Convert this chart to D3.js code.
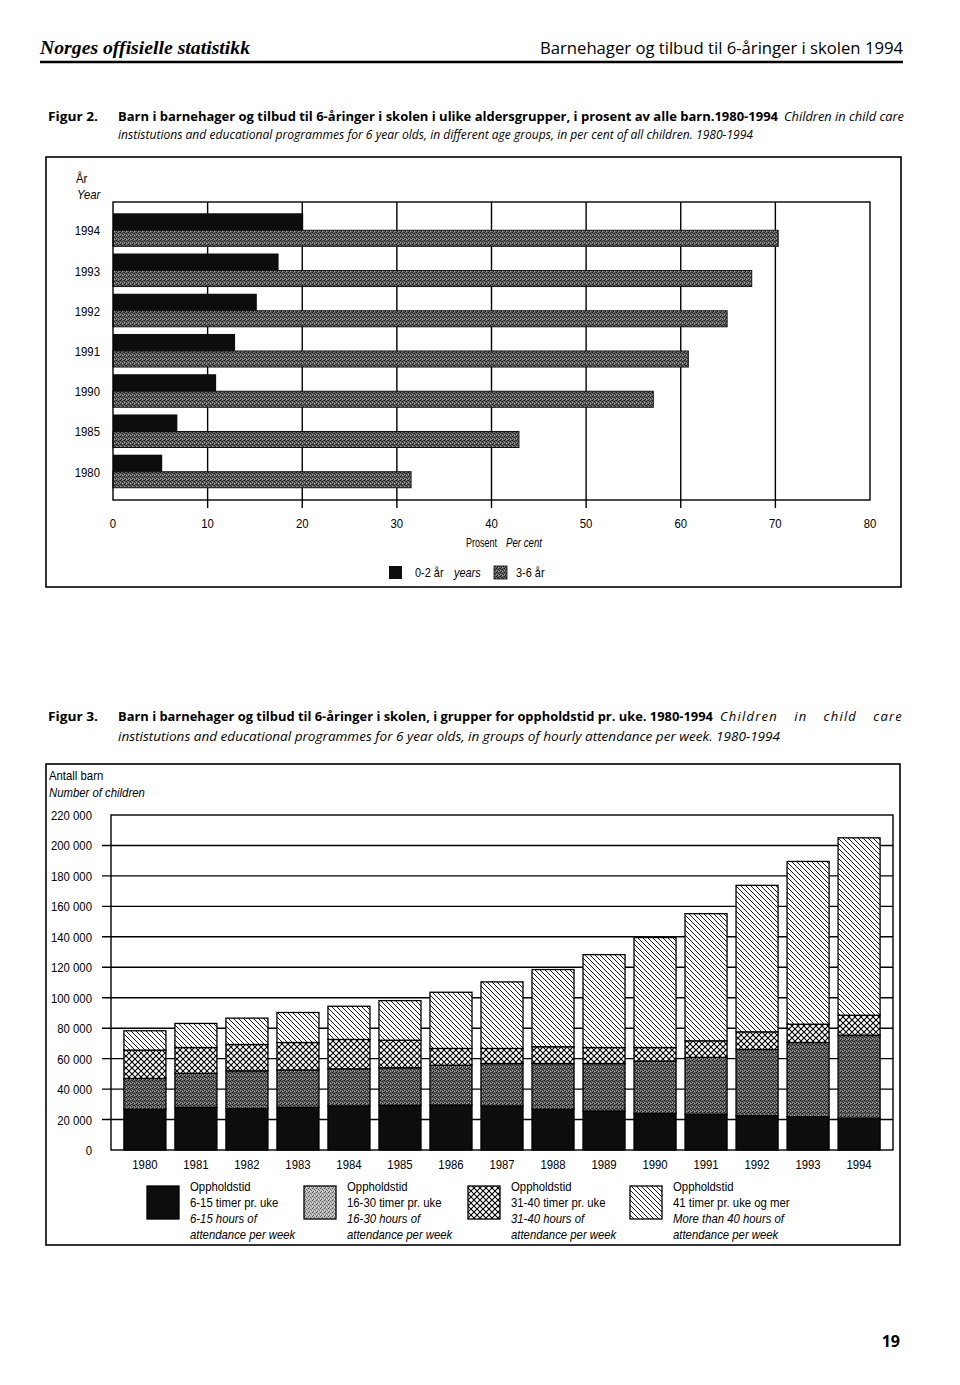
<!DOCTYPE html>
<html>
<head>
<meta charset="utf-8">
<style>
  body { margin: 0; background: #fff; }
  svg { display: block; }
</style>
</head>
<body>
<div id="chart"></div>
<script src="https://d3js.org/d3.v7.min.js"></script>
<script>

// Figur 2 data: percent of all children, by age group
var years2 = ["1994", "1993", "1992", "1991", "1990", "1985", "1980"];
var age02 = [20.1, 17.5, 15.2, 12.9, 10.9, 6.8, 5.2];
var age36 = [70.3, 67.5, 64.9, 60.8, 57.1, 42.9, 31.5];
var ticks2 = [0, 10, 20, 30, 40, 50, 60, 70, 80];

// Figur 3 data: number of children by hours of attendance per week
var years3 = ["1980", "1981", "1982", "1983", "1984", "1985", "1986", "1987",
              "1988", "1989", "1990", "1991", "1992", "1993", "1994"];
var h6_15  = [26700, 28000, 27300, 28000, 28900, 29300, 29500, 28900, 26700, 25600, 24000, 23400, 22500, 21900, 20800];
var h16_30 = [20300, 22300, 24700, 24500, 24400, 24700, 26200, 27900, 30100, 31200, 34400, 37400, 43500, 48700, 54600];
var h31_40 = [18600, 17000, 17300, 18100, 19300, 18100, 11000,  9900, 11000, 10500,  8900, 10900, 11600, 12000, 13100];
var h41    = [12700, 15800, 17300, 19700, 21800, 26000, 36900, 43700, 50700, 61000, 72200, 83500, 96200, 106900, 116500];
var ticks3 = [0, 20000, 40000, 60000, 80000, 100000, 120000, 140000, 160000, 180000, 200000, 220000];

var W = 960, H = 1385;
var narrow = "'Liberation Sans', Arial, sans-serif";   // condensed afterwards
var humanist = "'Open Sans', 'Noto Sans', sans-serif";
var squeeze = 0.84;

var svg = d3.select("#chart").append("svg")
    .attr("width", W)
    .attr("height", H);

var defs = svg.append("defs");

// stipple (grey screen, mottled)
function stipple(id, base, dots) {
  var p = defs.append("pattern").attr("id", id)
      .attr("patternUnits", "userSpaceOnUse").attr("width", 4).attr("height", 4);
  p.append("rect").attr("width", 4).attr("height", 4).attr("fill", base);
  dots.forEach(d => {
    p.append("rect").attr("x", d[0]).attr("y", d[1]).attr("width", 1).attr("height", 1).attr("fill", d[2]);
  });
}
stipple("stipple", "#6a6a6a", [[0, 0, "#141414"], [2, 1, "#222"], [1, 3, "#1a1a1a"], [3, 2, "#2a2a2a"],
  [2, 3, "#a8a8a8"], [0, 2, "#9c9c9c"], [3, 0, "#444"], [1, 1, "#3a3a3a"]]);
stipple("stippleLight", "#b8b8b8", [[0, 0, "#555"], [2, 1, "#666"], [1, 3, "#5a5a5a"], [3, 2, "#707070"],
  [2, 3, "#e0e0e0"], [0, 2, "#dadada"]]);

// cross hatch
var ch = defs.append("pattern").attr("id", "cross")
    .attr("patternUnits", "userSpaceOnUse").attr("width", 6).attr("height", 6);
ch.append("rect").attr("width", 6).attr("height", 6).attr("fill", "#fff");
ch.append("path").attr("d", "M0,0L6,6M6,0L0,6")
    .attr("stroke", "#000").attr("stroke-width", 1.1);

// diagonal "\" lines
var dg = defs.append("pattern").attr("id", "diag")
    .attr("patternUnits", "userSpaceOnUse").attr("width", 5).attr("height", 5);
dg.append("rect").attr("width", 5).attr("height", 5).attr("fill", "#fff");
dg.append("path").attr("d", "M0,0L5,5M-1,4L1,6M4,-1L6,1")
    .attr("stroke", "#000").attr("stroke-width", 0.9);

function txt(g, x, y, s, o) {
  o = o || {};
  var fam = o.family || narrow;
  var t = g.append("text")
      .attr("x", x).attr("y", y)
      .attr("font-family", fam)
      .attr("font-size", o.size || 13)
      .attr("fill", "#000")
      .text(s);
  if (fam === narrow) t.classed("nw", true);
  if (o.anchor) t.attr("text-anchor", o.anchor);
  if (o.weight) t.attr("font-weight", o.weight);
  if (o.italic) t.attr("font-style", "italic");
  if (o.len) t.attr("textLength", o.len).attr("lengthAdjust", "spacingAndGlyphs").classed("nw", false);
  return t;
}

// justified run: stretch word spacing so the run ends at x1
function justify(t, x0, x1) {
  var n = t.text().split(" ").length - 1;
  var w = t.node().getComputedTextLength();
  if (n > 0) t.attr("word-spacing", Math.max(0, (x1 - x0 - w) / n));
}

// ---- page header ----
txt(svg, 40, 54, "Norges offisielle statistikk",
    {family: "'Liberation Serif', 'DejaVu Serif', serif", size: 18, italic: true, weight: "bold", len: 210});
txt(svg, 903, 54, "Barnehager og tilbud til 6-åringer i skolen 1994",
    {family: humanist, size: 16, anchor: "end", len: 363});
svg.append("line").attr("x1", 40).attr("x2", 903).attr("y1", 62).attr("y2", 62)
    .attr("stroke", "#000").attr("stroke-width", 2.5);

// ---- Figur 2 caption ----
txt(svg, 48, 121, "Figur 2.", {family: humanist, size: 12.5, weight: "bold", len: 50});
txt(svg, 118, 121, "Barn i barnehager og tilbud til 6-åringer i skolen i ulike aldersgrupper, i prosent av alle barn.1980-1994",
    {family: humanist, size: 12.5, weight: "bold", len: 660});
txt(svg, 784, 121, "Children in child care", {family: humanist, size: 12.5, italic: true, len: 120});
txt(svg, 118, 139, "instistutions and  educational programmes for 6 year olds, in different age groups, in per cent of all children. 1980-1994",
    {family: humanist, size: 12.5, italic: true, len: 635});

// ---- Figur 2 frame ----
svg.append("rect").attr("x", 46).attr("y", 157).attr("width", 855).attr("height", 430)
    .attr("fill", "none").attr("stroke", "#000").attr("stroke-width", 1.6);

var g2 = svg.append("g");
var x2 = d3.scaleLinear().domain([0, 80]).range([113, 870]);
var y2 = d3.scaleBand().domain(years2).range([202, 500]).paddingInner(0.154).paddingOuter(0.28);
var sub2 = d3.scaleBand().domain(["a", "b"]).range([0, y2.bandwidth()]);

// vertical grid lines with tick extension
g2.selectAll("line.grid")
  .data(ticks2.filter(d => d > 0 && d < 80))
  .enter().append("line")
    .attr("x1", d => x2(d)).attr("x2", d => x2(d))
    .attr("y1", 202).attr("y2", 508)
    .attr("stroke", "#000").attr("stroke-width", 1.4);

// bars 0-2
g2.selectAll("rect.b02")
  .data(age02)
  .enter().append("rect")
    .attr("x", x2(0))
    .attr("y", (d, i) => y2(years2[i]) + sub2("a"))
    .attr("width", d => x2(d) - x2(0))
    .attr("height", sub2.bandwidth() + 1)
    .attr("fill", "#0d0d0d");

// bars 3-6
g2.selectAll("rect.b36")
  .data(age36)
  .enter().append("rect")
    .attr("x", x2(0))
    .attr("y", (d, i) => y2(years2[i]) + sub2("b"))
    .attr("width", d => x2(d) - x2(0))
    .attr("height", sub2.bandwidth() - 1)
    .attr("fill", "url(#stipple)")
    .attr("stroke", "#111").attr("stroke-width", 1);

// plot border
g2.append("rect").attr("x", x2(0)).attr("y", 202)
    .attr("width", x2(80) - x2(0)).attr("height", 298)
    .attr("fill", "none").attr("stroke", "#000").attr("stroke-width", 1.4);

// year labels
g2.selectAll("text.yr")
  .data(years2)
  .enter().append("text")
    .attr("class", "nw")
    .attr("x", 100)
    .attr("y", d => y2(d) + y2.bandwidth() / 2 + 5)
    .attr("text-anchor", "end")
    .attr("font-family", narrow).attr("font-size", 13.5)
    .text(d => d);

txt(g2, 76, 183, "År", {size: 13.5});
txt(g2, 77, 199, "Year", {size: 13.5, italic: true});

// x tick labels
g2.selectAll("text.xt")
  .data(ticks2)
  .enter().append("text")
    .attr("class", "nw")
    .attr("x", d => x2(d))
    .attr("y", 528)
    .attr("text-anchor", "middle")
    .attr("font-family", narrow).attr("font-size", 13.5)
    .text(d => d);

txt(g2, 466, 547, "Prosent", {size: 12.5, len: 31});
txt(g2, 506, 547, "Per cent", {size: 12.5, italic: true, len: 36});

// legend
g2.append("rect").attr("x", 389).attr("y", 566).attr("width", 13).attr("height", 13).attr("fill", "#0d0d0d");
txt(g2, 415, 577, "0-2 år", {size: 13});
txt(g2, 454, 577, "years", {size: 13, italic: true});
g2.append("rect").attr("x", 494).attr("y", 566).attr("width", 13).attr("height", 13)
    .attr("fill", "url(#stipple)").attr("stroke", "#000").attr("stroke-width", 0.8);
txt(g2, 516, 577, "3-6 år", {size: 13});

// ---- Figur 3 caption ----
txt(svg, 48, 721, "Figur 3.", {family: humanist, size: 12.5, weight: "bold", len: 50});
txt(svg, 118, 721, "Barn i barnehager og tilbud til 6-åringer i skolen, i grupper for oppholdstid pr. uke. 1980-1994",
    {family: humanist, size: 12.5, weight: "bold", len: 595});
var it3 = svg.append("text")
    .attr("x", 720).attr("y", 721)
    .attr("font-family", humanist).attr("font-size", 13)
    .attr("font-style", "italic")
    .attr("letter-spacing", 1.2)
    .text("Children in child care");
justify(it3, 720, 903);
txt(svg, 118, 741, "instistutions and  educational programmes for 6 year olds, in groups of hourly attendance per week.  1980-1994",
    {family: humanist, size: 12.5, italic: true, len: 662});

// ---- Figur 3 frame ----
svg.append("rect").attr("x", 46).attr("y", 764).attr("width", 854).attr("height", 481)
    .attr("fill", "none").attr("stroke", "#000").attr("stroke-width", 1.6);

var g3 = svg.append("g");
var y3 = d3.scaleLinear().domain([0, 220000]).range([1150, 815]);
var x3 = d3.scaleBand().domain(years3).range([111, 893]).paddingInner(0.176).paddingOuter(0.253);
var fmt = v => d3.format(",")(v).replace(/,/g, " ");

txt(g3, 49, 780, "Antall barn", {size: 13.5});
txt(g3, 49, 797, "Number of children", {size: 13.5, italic: true});

// horizontal grid lines
g3.selectAll("line.grid")
  .data(ticks3.filter(d => d > 0 && d < 220000))
  .enter().append("line")
    .attr("x1", 102).attr("x2", 893)
    .attr("y1", d => y3(d)).attr("y2", d => y3(d))
    .attr("stroke", "#000").attr("stroke-width", 1.4);

g3.append("rect").attr("x", 111).attr("y", y3(220000))
    .attr("width", 893 - 111).attr("height", y3(0) - y3(220000))
    .attr("fill", "none").attr("stroke", "#000").attr("stroke-width", 1.4);

g3.selectAll("text.yt")
  .data(ticks3)
  .enter().append("text")
    .attr("class", "nw")
    .attr("x", 92)
    .attr("y", d => y3(d) + 5)
    .attr("text-anchor", "end")
    .attr("font-family", narrow).attr("font-size", 13.5)
    .text(d => fmt(d));

var rows = years3.map((y, i) => ({year: y, a: h6_15[i], b: h16_30[i], c: h31_40[i], d: h41[i]}));
var keys = ["a", "b", "c", "d"];
var fills = {a: "#0d0d0d", b: "url(#stipple)", c: "url(#cross)", d: "url(#diag)"};
var stack = d3.stack().keys(keys)(rows);

g3.selectAll("g.layer")
  .data(stack)
  .enter().append("g")
    .attr("fill", d => fills[d.key])
  .selectAll("rect")
  .data(d => d)
  .enter().append("rect")
    .attr("x", d => x3(d.data.year))
    .attr("y", d => y3(d[1]))
    .attr("width", x3.bandwidth())
    .attr("height", d => y3(d[0]) - y3(d[1]))
    .attr("stroke", "#000").attr("stroke-width", 1.3);

g3.selectAll("text.xt")
  .data(years3)
  .enter().append("text")
    .attr("class", "nw")
    .attr("x", d => x3(d) + x3.bandwidth() / 2)
    .attr("y", 1169)
    .attr("text-anchor", "middle")
    .attr("font-family", narrow).attr("font-size", 13.5)
    .text(d => d);

// legend
var legend3 = [
  {x: 147, fill: fills.a, l1: "6-15 timer pr. uke", l2: "6-15 hours of"},
  {x: 304, fill: "url(#stippleLight)", l1: "16-30 timer pr. uke", l2: "16-30 hours of"},
  {x: 468, fill: fills.c, l1: "31-40 timer pr. uke", l2: "31-40 hours of"},
  {x: 630, fill: fills.d, l1: "41 timer pr. uke og mer", l2: "More than 40 hours of"}
];
legend3.forEach(d => {
  g3.append("rect").attr("x", d.x).attr("y", 1186).attr("width", 32).attr("height", 33)
      .attr("fill", d.fill).attr("stroke", "#000").attr("stroke-width", 1.3);
  var tx = d.x + 43;
  txt(g3, tx, 1191, "Oppholdstid", {size: 13.5});
  txt(g3, tx, 1207, d.l1, {size: 13.5});
  txt(g3, tx, 1223, d.l2, {size: 13.5, italic: true});
  txt(g3, tx, 1239, "attendance per week", {size: 13.5, italic: true});
});

// page number
txt(svg, 900, 1347, "19", {family: humanist, size: 16, weight: "bold", anchor: "end"});

// condense the Helvetica-like chart labels to a narrow face
svg.selectAll("text.nw").each(function() {
  var w = this.getComputedTextLength();
  d3.select(this).attr("textLength", w * squeeze).attr("lengthAdjust", "spacingAndGlyphs");
});

</script>
</body>
</html>
